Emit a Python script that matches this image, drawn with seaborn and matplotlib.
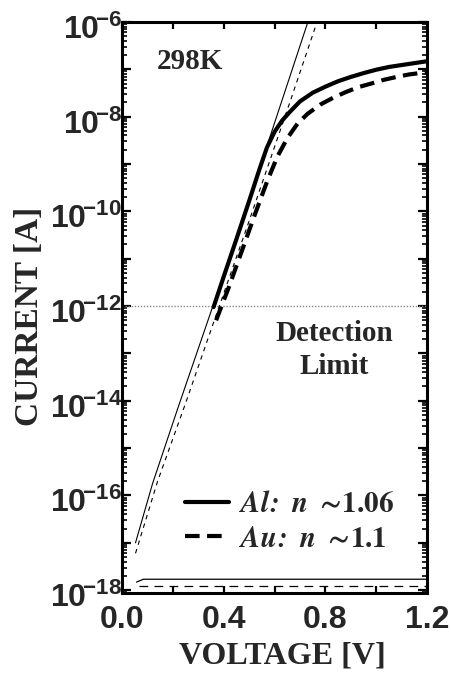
import matplotlib
matplotlib.use("Agg")
import matplotlib.pyplot as plt
import matplotlib.transforms as mtransforms
import seaborn as sns

# Measured I-V, Al contact (V, A)
al_volt = [0.36, 0.40, 0.45, 0.50, 0.54, 0.57, 0.60, 0.63, 0.66, 0.70,
           0.75, 0.80, 0.85, 0.90, 0.95, 1.00, 1.05, 1.10, 1.15, 1.20]
al_curr = [9.5e-13, 4.2e-12, 2.6e-11, 1.66e-10, 7.6e-10, 2.24e-9, 4.8e-9,
           8.3e-9, 1.26e-8, 2.1e-8, 3.2e-8, 4.3e-8, 5.6e-8, 6.9e-8, 8.3e-8,
           9.8e-8, 1.12e-7, 1.23e-7, 1.35e-7, 1.48e-7]

# Measured I-V, Au contact (V, A)
au_volt = [0.37, 0.42, 0.47, 0.52, 0.57, 0.61, 0.65, 0.69, 0.73, 0.78,
           0.83, 0.88, 0.93, 0.98, 1.03, 1.08, 1.13, 1.20]
au_curr = [5.0e-13, 2.5e-12, 1.4e-11, 7.9e-11, 4.2e-10, 1.4e-9, 3.5e-9,
           7.1e-9, 1.15e-8, 1.8e-8, 2.5e-8, 3.3e-8, 4.2e-8, 5.0e-8, 6.0e-8,
           6.9e-8, 7.8e-8, 8.7e-8]

# Diode-equation fits
al_fit_volt = [0.053, 0.12, 0.22, 0.36, 0.58, 0.731]
al_fit_curr = [1.0e-17, 1.78e-16, 7.1e-15, 1.1e-12, 3.5e-9, 1.0e-6]
au_fit_volt = [0.053, 0.14, 0.25, 0.36, 0.50, 0.66, 0.767]
au_fit_curr = [6.0e-18, 2.0e-16, 8.9e-15, 4.5e-13, 6.3e-11, 2.0e-8, 1.0e-6]

# Reverse-bias / noise floor traces
al_floor_volt = [0.057, 0.084, 1.20]
al_floor_curr = [1.48e-18, 1.7e-18, 1.7e-18]
au_floor_volt = [0.065, 1.20]
au_floor_curr = [1.2e-18, 1.2e-18]

detection_limit = 1e-12

x_ticks = [0.0, 0.4, 0.8, 1.2]
x_tick_labels = ["0.0", "0.4", "0.8", "1.2"]
x_minor_ticks = [0.2, 0.6, 1.0]
y_exponents = list(range(-18, -5))
y_tick_labels = [r"$10^{\!{-}%d}$" % -e if e % 2 == 0 else "" for e in y_exponents]

legend_labels = [r"$\mathbfit{Al\!:\ n}\ \mathbf{\sim\!1.06}$",
                 r"$\mathbfit{Au\!:\ n}\ \mathbf{\sim\!1.1}$"]

sns.set_theme(style="ticks")
plt.rcParams.update({
    "font.family": ["Liberation Serif", "DejaVu Serif"],
    "font.weight": "bold",
    "mathtext.fontset": "custom",
    "mathtext.rm": "Liberation Sans:bold",
    "mathtext.bf": "Liberation Sans:bold",
    "mathtext.it": "Liberation Sans:italic:bold",
    "mathtext.default": "rm",
    "axes.linewidth": 2.2,
    "axes.edgecolor": "black",
})

fig = plt.figure(figsize=(4.52, 6.75), dpi=100)
ax = fig.add_axes([0.270, 0.1215, 0.675, 0.846])
ax.set_yscale("log")

# fits
sns.lineplot(x=al_fit_volt, y=al_fit_curr, ax=ax, color="black",
             linewidth=0.8, estimator=None, sort=False)
sns.lineplot(x=au_fit_volt, y=au_fit_curr, ax=ax, color="black",
             linewidth=0.8, linestyle=(0, (4, 4)), estimator=None, sort=False)
# floors
sns.lineplot(x=al_floor_volt, y=al_floor_curr, ax=ax, color="black",
             linewidth=0.9, estimator=None, sort=False)
sns.lineplot(x=au_floor_volt, y=au_floor_curr, ax=ax, color="black",
             linewidth=0.9, linestyle=(0, (7, 5)), estimator=None, sort=False)
# measured
sns.lineplot(x=al_volt, y=al_curr, ax=ax, color="black",
             linewidth=3.0, estimator=None, sort=False)
h_al = ax.lines[-1]
sns.lineplot(x=au_volt, y=au_curr, ax=ax, color="black",
             linewidth=3.0, linestyle=(0, (3.5, 1.8)), estimator=None, sort=False)
h_au = ax.lines[-1]

ax.axhline(detection_limit, color="#8a8a8a", linewidth=1.0,
           linestyle=(0, (1, 1.2)), zorder=1)

ax.set_xlim(0, 1.2)
ax.set_ylim(10 ** -18.06, 1e-6)

ax.set_xticks(x_ticks)
ax.set_xticklabels(x_tick_labels, fontfamily="Liberation Sans",
                   fontweight="bold", fontsize=23)
ax.set_xticks(x_minor_ticks, minor=True)
ax.set_yticks([10.0 ** e for e in y_exponents])
ax.set_yticklabels(y_tick_labels, fontsize=23)
ax.yaxis.set_minor_locator(matplotlib.ticker.LogLocator(
    base=10, subs=[2, 3, 4, 5, 6, 7, 8, 9], numticks=40))
ax.yaxis.set_minor_formatter(matplotlib.ticker.NullFormatter())

ax.tick_params(which="both", direction="in", top=True, right=True,
               color="black", width=1.6)
ax.tick_params(axis="x", which="both", length=5, pad=8.5)
ax.tick_params(axis="y", which="major", length=6.5, pad=0)
ax.tick_params(axis="y", which="minor", length=3.5, width=1.2)

# y labels sit a little below their ticks
shift = mtransforms.ScaledTranslation(0, -3.5 / 72, fig.dpi_scale_trans)
for lbl in ax.yaxis.get_majorticklabels():
    lbl.set_transform(lbl.get_transform() + shift)

ax.set_xlabel("VOLTAGE [V]", fontsize=23, fontweight="bold")
ax.set_ylabel("CURRENT [A]", fontsize=24, fontweight="bold")
ax.xaxis.set_label_coords(0.525, -0.085)
ax.yaxis.set_label_coords(-0.253, 0.485)

ax.text(0.223, 0.930, "298K", transform=ax.transAxes, fontsize=21,
        fontweight="bold", ha="center", va="center")
ax.text(0.695, 0.4256, "Detection\nLimit", transform=ax.transAxes,
        fontsize=21, fontweight="bold", ha="center", va="center",
        linespacing=1.28)

leg = ax.legend([h_al, h_au], legend_labels, loc="upper left",
                bbox_to_anchor=(0.206, 0.178), frameon=False, fontsize=21,
                handlelength=1.5, handletextpad=0.35, labelspacing=0.25,
                borderpad=0, borderaxespad=0)
for t in leg.get_texts():
    t.set_math_fontfamily("stix")

fig.savefig("out.png", dpi=100)
